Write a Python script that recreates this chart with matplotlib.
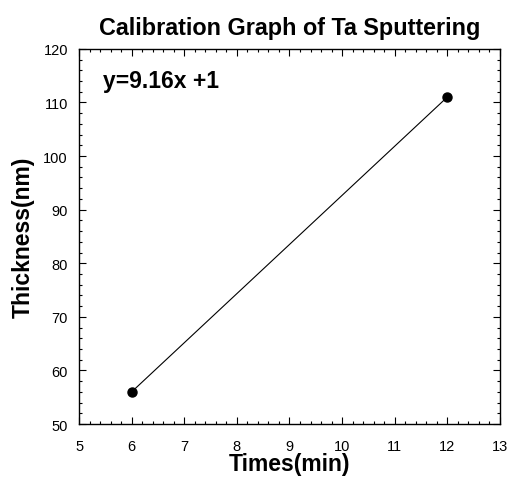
import numpy as np
import matplotlib.pyplot as plt
from matplotlib.ticker import MultipleLocator

plt.rcParams['font.family'] = ['Liberation Sans', 'DejaVu Sans']

# Deposition time (min) and measured film thickness (nm)
times = [6, 12]
thickness = [56, 111]
fit_label = 'y=9.16x +1'

fig = plt.figure(figsize=(5.07, 4.81), dpi=100)
ax = fig.add_axes([0.156, 0.1164, 0.830, 0.780])

ax.plot(times, thickness, '-k', lw=0.8, marker='o', ms=6.5)

ax.set_xlim(5, 13)
ax.set_ylim(50, 120)
ax.xaxis.set_major_locator(MultipleLocator(1))
ax.xaxis.set_minor_locator(MultipleLocator(0.2))
ax.yaxis.set_major_locator(MultipleLocator(10))
ax.yaxis.set_minor_locator(MultipleLocator(2))
ax.tick_params(which='both', direction='in', top=True, right=True, width=0.8)
ax.tick_params(which='major', length=5, labelsize=10.5)
ax.tick_params(axis='x', which='major', pad=11)
ax.tick_params(axis='y', which='major', pad=8)
ax.tick_params(which='minor', length=2.5)
for s in ax.spines.values():
    s.set_linewidth(1.0)

ax.set_xlabel('Times(min)', fontsize=16.5, fontweight='bold', labelpad=-1)
ax.set_ylabel('Thickness(nm)', fontsize=16.5, fontweight='bold', labelpad=6)
ax.set_title('Calibration Graph of Ta Sputtering', fontsize=16.8, fontweight='bold', pad=11)
ax.text(0.057, 0.915, fit_label, transform=ax.transAxes, fontsize=16.5, fontweight='bold', va='center')

fig.savefig('out.png', dpi=100)
